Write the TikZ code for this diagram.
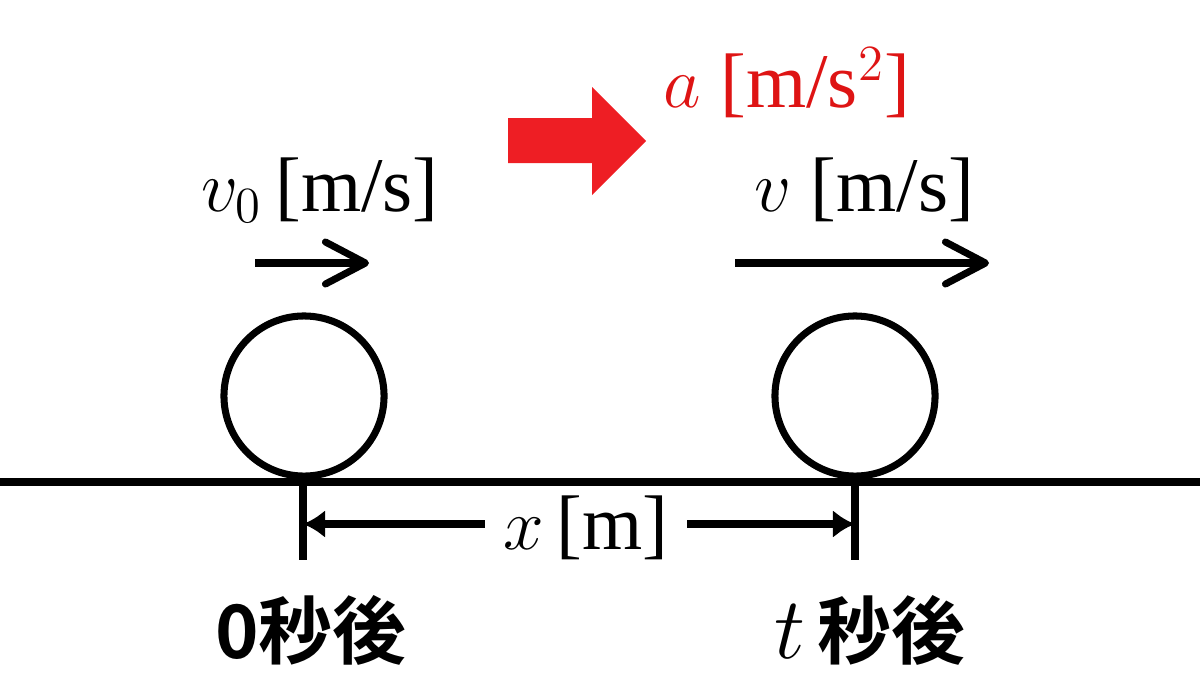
\documentclass[tikz,border=0pt]{standalone}
\usepackage{fontspec}
\setmainfont{Liberation Serif}
\newfontfamily\jpfont{Noto Sans CJK JP}[UprightFont=* Bold]
\usetikzlibrary{arrows.meta}
\definecolor{accred}{RGB}{238,30,36}
\definecolor{labred}{RGB}{222,20,20}

\begin{document}
\begin{tikzpicture}[x=0.01cm,y=-0.01cm,line width=2pt,
    ball/.style={circle,draw,line width=2pt,minimum size=1.6cm,inner sep=0pt},
    lbl/.style={font=\fontsize{22}{26}\selectfont,inner sep=0pt},
    daytxt/.style={font=\jpfont\fontsize{21}{24}\selectfont,inner sep=0pt},
    vel/.style={-{Straight Barb[length=4mm,width=4.2mm,round]}},
    dim/.style={-{Latex[length=2.2mm,width=2.8mm]}}]
    \useasboundingbox (0,0) rectangle (1200,675);

    % ground
    \coordinate (gl) at (0,482);
    \coordinate (gr) at (1200,482);
    \draw (gl) -- (gr);

    % balls
    \node[ball] (ball0) at (304,396) {};
    \node[ball] (ballt) at (855,396) {};

    % ticks
    \coordinate (tick0) at (303,482);
    \coordinate (tick0b) at (303,560);
    \coordinate (tickt) at (855,482);
    \coordinate (ricktb) at (855,560);
    \draw (tick0) -- (tick0b);
    \draw (tickt) -- (ricktb);

    % distance
    \node[lbl,inner xsep=0.15cm] (dist) at (586,528) {$x$\,[m]};
    \coordinate (dim0) at (303,524);
    \coordinate (dimt) at (855,524);
    \draw[dim] (dist.west |- dim0) -- (dim0);
    \draw[dim] (dist.east |- dimt) -- (dimt);

    % velocities
    \coordinate (v0s) at (255,263);
    \coordinate (v0e) at (369,263);
    \coordinate (vs) at (735,263);
    \coordinate (ve) at (989,263);
    \draw[vel] (v0s) -- (v0e);
    \draw[vel] (vs) -- (ve);
    \node[lbl] (v0lbl) at (320,190) {$v_0$\,[m/s]};
    \node[lbl] (vlbl) at (864,190) {$v$~[m/s]};

    % acceleration
    \fill[accred] (508,118) -- (592,118) -- (592,87) -- (646,141)
        -- (592,195) -- (592,163) -- (508,163) -- cycle;
    \node[lbl,text=labred] (albl) at (787,83) {$a$~[m/s$^2$]};

    % times
    \node[daytxt] (t0) at (311,630) {0秒後};
    \node[daytxt] (tt) at (870,630) {{\fontsize{25}{28}\selectfont$t$}\,秒後};
\end{tikzpicture}
\end{document}
